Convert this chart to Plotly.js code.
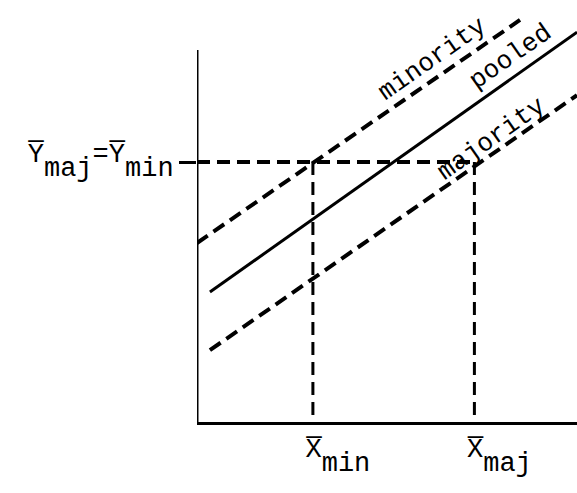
<!DOCTYPE html>
<html><head><meta charset="utf-8">
<script src="https://cdn.plot.ly/plotly-3.0.1.min.js"></script>
<style>html,body{margin:0;padding:0;background:#fff}</style>
</head><body><div id="chart" style="width:577px;height:493px"></div>
<script>
// line data (x, y in arbitrary diagram units)
const minorityX = [0, 8.5];
const minorityY = [4.71, 10.58];
const pooledX = [0.34, 10];
const pooledY = [3.42, 10.26];
const majorityX = [0.34, 10];
const majorityY = [1.89, 8.6];
// group means
const xMeanMin = 3.05;
const xMeanMaj = 7.3;
const yMean = 6.84;
const yAxisTop = 9.79;
// labels
const seriesLabels = ['minority', 'pooled', 'majority'];
const SUB = '<span style="baseline-shift:-14px">';
const xTickText = ['X\u0305' + SUB + 'min</span>', 'X\u0305' + SUB + 'maj</span>'];
const yTickText = ['Y\u0305' + SUB + 'maj</span>=Y\u0305' + SUB + 'min</span>'];

const FONT = 'Liberation Mono, DejaVu Sans Mono, monospace';
const dashStyle = '13px,7px';

const traces = [
  {x: minorityX, y: minorityY, mode: 'lines', line: {color: '#000', width: 4, dash: dashStyle}},
  {x: pooledX, y: pooledY, mode: 'lines', line: {color: '#000', width: 3}},
  {x: majorityX, y: majorityY, mode: 'lines', line: {color: '#000', width: 4, dash: dashStyle}},
  {x: [0, xMeanMaj], y: [yMean, yMean], mode: 'lines', line: {color: '#000', width: 4, dash: dashStyle}},
  {x: [xMeanMin, xMeanMin], y: [yMean, 0], mode: 'lines', line: {color: '#000', width: 3, dash: dashStyle}},
  {x: [xMeanMaj, xMeanMaj], y: [yMean, 0], mode: 'lines', line: {color: '#000', width: 3, dash: dashStyle}}
];

const layout = {
  width: 577, height: 493,
  margin: {l: 197, r: 0, t: 0, b: 71},
  paper_bgcolor: '#fff', plot_bgcolor: '#fff',
  showlegend: false,
  font: {family: FONT, size: 27, color: '#000'},
  xaxis: {
    range: [0, 10], showgrid: false, zeroline: false,
    showline: true, linecolor: '#000', linewidth: 3,
    tickvals: [xMeanMin, xMeanMaj], ticktext: xTickText, ticks: '',
    ticklabelshift: 25, ticklabelstandoff: 0,
    tickfont: {family: FONT, size: 27, color: '#000'}
  },
  yaxis: {
    range: [0, 11.105], showgrid: false, zeroline: false, showline: false,
    tickvals: [yMean], ticktext: yTickText,
    ticks: 'outside', ticklen: 17, tickwidth: 3, tickcolor: '#000',
    ticklabelshift: -10, ticklabelstandoff: 0,
    tickfont: {family: FONT, size: 27, color: '#000'}
  },
  shapes: [
    {type: 'line', xref: 'x', yref: 'y', x0: 0, x1: 0, y0: 0, y1: yAxisTop,
     line: {color: '#000', width: 3}}
  ],
  annotations: [
    {x: 6.2, y: 9.55, text: seriesLabels[0], showarrow: false, textangle: -35,
     font: {family: FONT, size: 26, color: '#000'}},
    {x: 8.25, y: 9.6, text: seriesLabels[1], showarrow: false, textangle: -35,
     font: {family: FONT, size: 26, color: '#000'}},
    {x: 7.75, y: 7.45, text: seriesLabels[2], showarrow: false, textangle: -35,
     font: {family: FONT, size: 26, color: '#000'}}
  ]
};

Plotly.newPlot('chart', traces, layout, {displayModeBar: false, staticPlot: true});
</script></body></html>
